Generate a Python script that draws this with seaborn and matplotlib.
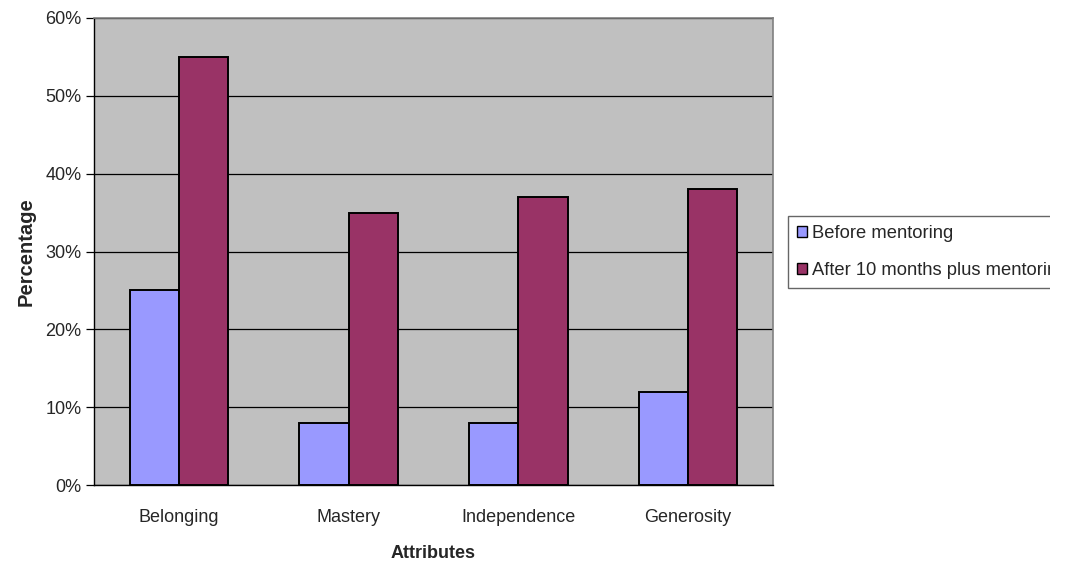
import matplotlib
matplotlib.use("Agg")
import matplotlib.pyplot as plt
import matplotlib.patches as mpatches
from matplotlib.ticker import FuncFormatter, FixedLocator
import seaborn as sns
import pandas as pd

categories = ["Belonging", "Mastery", "Independence", "Generosity"]
series_names = ["Before mentoring", "After 10 months plus mentoring"]
before = [25, 8, 8, 12]
after = [55, 35, 37, 38]
colors = ["#9999FF", "#993366"]

df = pd.DataFrame({
    "Attribute": categories * 2,
    "Value": before + after,
    "Series": [series_names[0]] * len(categories) + [series_names[1]] * len(categories),
})

sns.set_style("white")
plt.rcParams["font.family"] = ["Liberation Sans", "DejaVu Sans"]
FS = 13

fig = plt.figure(figsize=(10.76, 5.66), dpi=100)
ax = fig.add_axes([94 / 1076, 81 / 566, (773 - 94) / 1076, (485 - 18) / 566])
ax.set_facecolor("#C0C0C0")

sns.barplot(data=df, x="Attribute", y="Value", hue="Series", order=categories,
            hue_order=series_names, palette=colors, saturation=1, width=0.58,
            edgecolor="black", linewidth=1.4, ax=ax, legend=False, zorder=3)

ax.set_ylim(0, 60)
ax.set_xlim(-0.5, len(categories) - 0.5)
ax.set_yticks(range(0, 61, 10))
ax.yaxis.set_major_formatter(FuncFormatter(lambda v, _: f"{int(v)}%"))
ax.grid(axis="y", color="black", linewidth=0.9, zorder=1)
ax.set_axisbelow(True)

# category boundary ticks below the x axis
ax.tick_params(axis="x", which="major", length=0, pad=17, labelsize=FS)
ax.xaxis.set_minor_locator(FixedLocator([i - 0.5 for i in range(len(categories) + 1)]))
ax.tick_params(axis="x", which="minor", length=6, width=0.9, color="black")
ax.tick_params(axis="y", length=6, width=0.9, color="black", labelsize=FS, pad=3, left=True)

ax.set_xlabel("Attributes", fontsize=FS, fontweight="bold", labelpad=14)
ax.set_ylabel("Percentage", fontsize=14.5, fontweight="bold", labelpad=7)

for side in ("left", "bottom"):
    ax.spines[side].set_color("black")
    ax.spines[side].set_linewidth(1.0)
for side in ("top", "right"):
    ax.spines[side].set_color("#808080")
    ax.spines[side].set_linewidth(1.2)

handles = [mpatches.Patch(facecolor=c, edgecolor="black", linewidth=1.0) for c in colors]
leg = fig.legend(handles, series_names, loc="upper left",
                 bbox_to_anchor=(788 / 1076, 1 - 216 / 566), fontsize=13.2,
                 frameon=True, fancybox=False, shadow=False, borderpad=0.5,
                 handlelength=0.55, handleheight=0.55, handletextpad=0.25,
                 labelspacing=1.07, borderaxespad=0)
leg.get_frame().set_edgecolor("#404040")
leg.get_frame().set_linewidth(1.0)

# the canvas ends just past the legend text
fig.patches.append(mpatches.Rectangle((1050 / 1076, 0), 1, 1, transform=fig.transFigure,
                                      facecolor="white", edgecolor="none", zorder=10))

fig.savefig("out.png", dpi=100, facecolor="white")
